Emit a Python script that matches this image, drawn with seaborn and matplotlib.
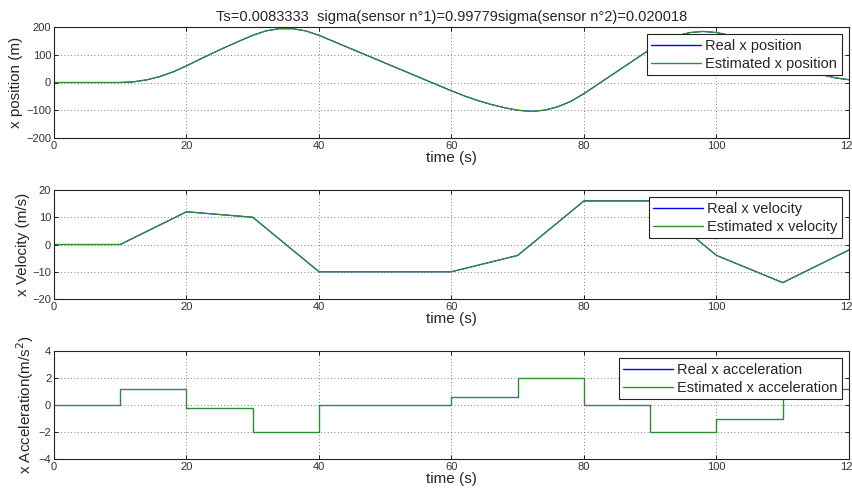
import matplotlib
matplotlib.use("Agg")
import matplotlib.pyplot as plt
import seaborn as sns
import pandas as pd

# ---- data ----
pos_time = list(range(0, 121, 2))
pos_real = [0, 0, 0, 0, 0, 0, 2.4, 9.6, 21.6, 38.4, 60,
            83.6, 106.4, 128.4, 149.6, 170, 186, 194, 194, 186, 170,
            150, 130, 110, 90, 70, 50, 30, 10, -10, -30,
            -48.8, -65.2, -79.2, -90.8, -100, -104, -100, -88, -68, -40,
            -8, 24, 56, 88, 120, 148, 168, 180, 184, 180,
            170, 156, 138, 116, 90, 64.4, 43.6, 27.6, 16.4, 10]
pos_est = list(pos_real)

vel_time = [0, 10, 20, 30, 40, 60, 70, 80, 90, 100, 110, 120]
vel_real = [0, 0, 12, 10, -10, -10, -4, 16, 16, -4, -14, -2]
vel_est = list(vel_real)

acc_time = [0, 10, 20, 30, 40, 60, 70, 80, 90, 100, 110, 120]
acc_real = [0, 1.2, -0.2, -2, 0, 0.6, 2, 0, -2, -1, 1.2, 1.2]
acc_est = list(acc_real)

title = "Ts=0.0083333  sigma(sensor n\u00b01)=0.99779sigma(sensor n\u00b02)=0.020018"

sns.set_theme(style="white")
plt.rcParams["font.family"] = ["Liberation Sans", "DejaVu Sans"]

W, H = 853, 497
fig = plt.figure(figsize=(W / 100, H / 100), dpi=100)

def box(top, bottom, left=54, right=849):
    return [left / W, 1 - bottom / H, (right - left) / W, (bottom - top) / H]

panels = [
    (box(27, 138), pos_time, pos_real, pos_est, (-200, 200), [-200, -100, 0, 100, 200],
     "x position (m)", "Real x position", "Estimated x position", None),
    (box(190, 299), vel_time, vel_real, vel_est, (-20, 20), [-20, -10, 0, 10, 20],
     "x Velocity (m/s)", "Real x velocity", "Estimated x velocity", None),
    (box(351, 459), acc_time, acc_real, acc_est, (-4, 4), [-4, -2, 0, 2, 4],
     "x Acceleration(m/s$^2$)", "Real x acceleration", "Estimated x acceleration", "steps-post"),
]

axes = []
for rect, t, real, est, ylim, yticks, ylab, l1, l2, ds in panels:
    ax = fig.add_axes(rect)
    df = pd.DataFrame({"t": t, "real": real, "est": est})
    kw = {} if ds is None else {"drawstyle": ds}
    sns.lineplot(data=df, x="t", y="real", ax=ax, color="#0000ff", lw=0.8,
                 label=l1, estimator=None, sort=False, **kw)
    sns.lineplot(data=df, x="t", y="est", ax=ax, color="#2a922a", lw=0.9,
                 label=l2, estimator=None, sort=False, **kw)
    ax.set_xlim(0, 120)
    ax.set_ylim(*ylim)
    ax.set_xticks([0, 20, 40, 60, 80, 100, 120])
    ax.set_yticks(yticks)
    ax.set_xlabel("time (s)", fontsize=11, labelpad=0)
    ax.set_ylabel(ylab, fontsize=11, labelpad=2)
    ax.tick_params(direction="in", top=True, right=True, length=3,
                   labelsize=8, pad=2, color="black", labelcolor="#333333",
                   bottom=True, left=True, width=0.6)
    ax.grid(True, linestyle=(0, (1, 3)), color="#555555", linewidth=0.6)
    for s in ax.spines.values():
        s.set_color("#222222")
        s.set_linewidth(0.8)
    leg = ax.legend(loc="upper right", fontsize=10.5, frameon=True, fancybox=False,
                    framealpha=1, edgecolor="#222222", borderpad=0.3,
                    handlelength=3.4, handletextpad=0.3, labelspacing=0.3,
                    borderaxespad=0.5)
    leg.get_frame().set_linewidth(0.8)
    for h in leg.get_lines():
        h.set_linewidth(1.0)
    axes.append(ax)

axes[0].set_title(title, fontsize=10.5, pad=4)

fig.savefig("out.png", dpi=100, facecolor="white")
